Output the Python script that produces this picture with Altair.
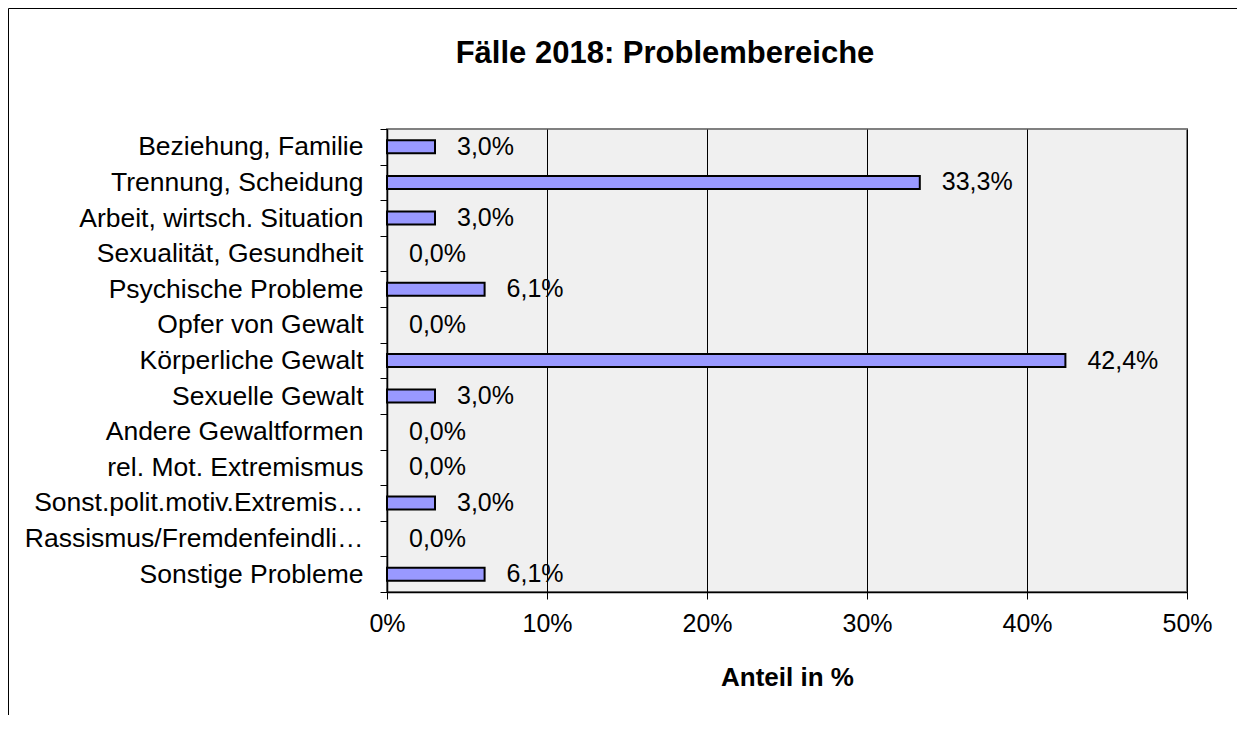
import altair as alt
import pandas as pd

categories = [
    "Beziehung, Familie",
    "Trennung, Scheidung",
    "Arbeit, wirtsch. Situation",
    "Sexualität, Gesundheit",
    "Psychische Probleme",
    "Opfer von Gewalt",
    "Körperliche Gewalt",
    "Sexuelle Gewalt",
    "Andere Gewaltformen",
    "rel. Mot. Extremismus",
    "Sonst.polit.motiv.Extremis…",
    "Rassismus/Fremdenfeindli…",
    "Sonstige Probleme",
]
values = [3.0, 33.3, 3.0, 0.0, 6.1, 0.0, 42.4, 3.0, 0.0, 0.0, 3.0, 0.0, 6.1]
x_ticks = [0, 10, 20, 30, 40, 50]

df = pd.DataFrame({"kategorie": categories, "anteil": values})
df["label"] = [f"{v:.1f}%".replace(".", ",") for v in values]

FONT = "Liberation Sans"

y_enc = alt.Y(
    "kategorie:N",
    sort=categories,
    scale=alt.Scale(paddingInner=0, paddingOuter=0),
    axis=alt.Axis(
        title=None,
        grid=False,
        domainColor="black",
        domainWidth=1.5,
        tickColor="black",
        tickSize=7,
        tickBand="extent",
        labelPadding=17,
        labelFontSize=26.5,
        labelFont=FONT,
        labelColor="black",
        labelLimit=500,
    ),
)
x_enc = alt.X(
    "anteil:Q",
    scale=alt.Scale(domain=[0, 50], nice=False, zero=True),
    axis=alt.Axis(
        values=x_ticks,
        labelExpr="datum.value + '%'",
        labelFlush=False,
        grid=True,
        gridColor="black",
        gridWidth=1,
        domainColor="black",
        domainWidth=1.5,
        tickColor="black",
        tickSize=7,
        labelPadding=12,
        labelFontSize=25,
        labelFont=FONT,
        labelColor="black",
        title="Anteil in %",
        titleFont=FONT,
        titleFontSize=26,
        titleFontWeight="bold",
        titleColor="black",
        titleY=93,
        titleBaseline="alphabetic",
    ),
)

bars = (
    alt.Chart(df)
    .transform_filter("datum.anteil > 0")
    .mark_bar(size=13, fill="#9999FF", stroke="black", strokeWidth=2)
    .encode(x=x_enc, y=y_enc)
)

labels = (
    alt.Chart(df)
    .mark_text(align="left", baseline="middle", dx=22, fontSize=25, font=FONT, color="black")
    .encode(x=alt.X("anteil:Q"), y=alt.Y("kategorie:N", sort=categories), text="label:N")
)

frame_data = alt.Data(values=[{"k": 1}])
border_left = alt.Chart(frame_data).mark_rule(color="black", strokeWidth=1).encode(
    x=alt.value(-378.5), y=alt.value(-120.5), y2=alt.value(720)
)
border_top = alt.Chart(frame_data).mark_rule(color="black", strokeWidth=1).encode(
    x=alt.value(-378.5), x2=alt.value(1000), y=alt.value(-120.5)
)

chart = (
    alt.layer(bars, labels, border_left, border_top)
    .properties(
        width=800,
        height=463,
        autosize=alt.AutoSizeParams(type="none"),
        padding={"left": 379, "top": 121, "right": 50, "bottom": 123},
        view=alt.ViewBackground(fill="#F0F0F0", stroke="#808080", strokeWidth=2),
        title=alt.TitleParams(
            "Fälle 2018: Problembereiche",
            font=FONT,
            fontSize=31,
            fontWeight="bold",
            color="black",
            anchor="middle",
            dx=-122,
            offset=-86,
            baseline="alphabetic",
        ),
    )
    .configure_view(fill="#F0F0F0", stroke="#808080", strokeWidth=2)
    .configure(background="white")
)

chart.save("out.html", embed_options={"renderer": "svg", "actions": False})
